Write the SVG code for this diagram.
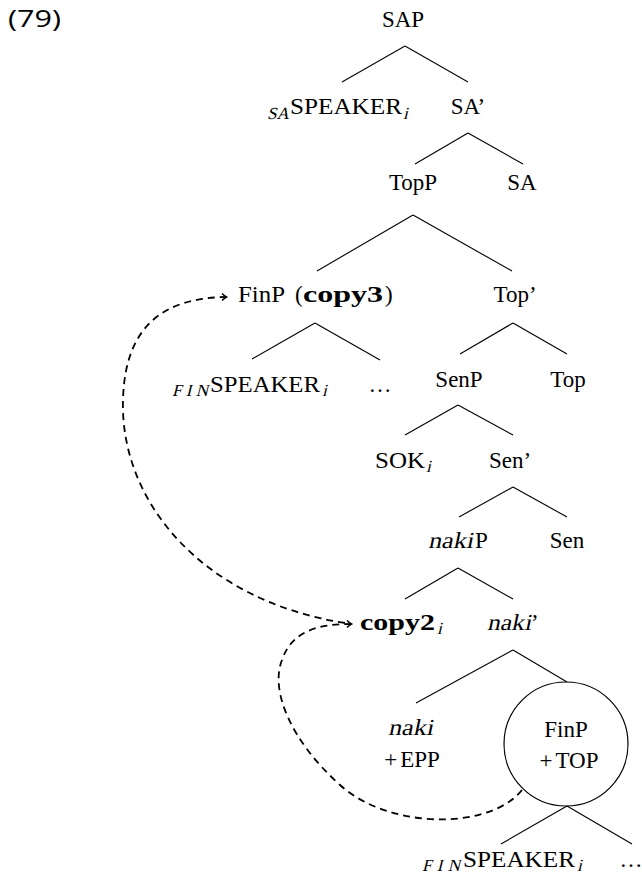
<svg xmlns="http://www.w3.org/2000/svg" width="642" height="883" viewBox="0 0 642 883">
<style>
  text { font-family: 'Liberation Serif', 'Times New Roman', serif; font-size: 23px; fill: #000; }
  .b { font-weight: bold; }
  .sub { font-size: 17px; }
  .num { font-family: 'Open Sans', 'Noto Sans', sans-serif; font-size: 24px; }
  .m { text-anchor: middle; }
  .edge { stroke: #000; stroke-width: 1.1; fill: none; }
  .move { stroke: #000; stroke-width: 1.8; fill: none; stroke-dasharray: 7 5; }
</style>
<defs>
  <marker id="arr" markerUnits="userSpaceOnUse" markerWidth="12" markerHeight="12" refX="0" refY="0" viewBox="-6 -6 12 12" orient="auto">
    <path d="M-4,-3.5 Q-1.5,-1 0.5,0 Q-1.5,1 -4,3.5" stroke="#000" stroke-width="1.5" fill="none"/>
  </marker>
</defs>
<rect width="642" height="883" fill="#fff"/>
<text class="num" x="8" y="27" textLength="53" lengthAdjust="spacingAndGlyphs">(79)</text>

<g id="connectors">
  <line class="edge" x1="405" y1="46" x2="342" y2="82"/>
  <line class="edge" x1="405" y1="46" x2="468" y2="82"/>
  <line class="edge" x1="468" y1="133" x2="415" y2="164"/>
  <line class="edge" x1="468" y1="133" x2="523" y2="164"/>
  <line class="edge" x1="413" y1="215" x2="317" y2="271"/>
  <line class="edge" x1="413" y1="215" x2="512" y2="271"/>
  <line class="edge" x1="315" y1="323" x2="252" y2="359"/>
  <line class="edge" x1="315" y1="323" x2="380" y2="360"/>
  <line class="edge" x1="513" y1="323" x2="460" y2="354"/>
  <line class="edge" x1="513" y1="323" x2="567" y2="354"/>
  <line class="edge" x1="458" y1="405" x2="405" y2="435"/>
  <line class="edge" x1="458" y1="405" x2="513" y2="435"/>
  <line class="edge" x1="513" y1="487" x2="459" y2="517"/>
  <line class="edge" x1="513" y1="487" x2="567" y2="517"/>
  <line class="edge" x1="458" y1="568" x2="405" y2="599"/>
  <line class="edge" x1="458" y1="568" x2="513" y2="599"/>
  <line class="edge" x1="513" y1="650" x2="416" y2="703"/>
  <line class="edge" x1="513" y1="650" x2="567" y2="682"/>
  <line class="edge" x1="567" y1="806" x2="501" y2="844"/>
  <line class="edge" x1="567" y1="806" x2="632" y2="844"/>
  <path class="move" d="M345,623 C200,600 120,500 123,400 C125,320 170,298 226,297" marker-end="url(#arr)"/>
  <path class="move" d="M522,790 C490,830 390,830 340,785 C290,740 270,690 282,660 C292,630 320,624 351,624" marker-end="url(#arr)"/>
</g>

<g id="nodes">
<g id="n-SAP"><text class="m" x="403" y="27">SAP</text></g>
<g id="n-SA-speaker">
  <g transform="translate(267,119) skewX(-14)"><text class="sub" x="0" y="0" textLength="22" lengthAdjust="spacingAndGlyphs">SA</text></g>
  <text x="290" y="114" textLength="112" lengthAdjust="spacingAndGlyphs">SPEAKER</text>
  <g transform="translate(403,119) skewX(-14)"><text class="sub" x="0" y="0">i</text></g>
</g>
<g id="n-SAbar"><text class="m" x="468" y="114">SA’</text></g>
<g id="n-TopP"><text class="m" x="413" y="190">TopP</text></g>
<g id="n-SA"><text class="m" x="522" y="190">SA</text></g>
<g id="n-FinP-copy3">
  <text x="238" y="302" textLength="47" lengthAdjust="spacingAndGlyphs">FinP</text>
  <text x="295" y="302">(</text>
  <text class="b" x="303" y="302" textLength="80" lengthAdjust="spacingAndGlyphs">copy3</text>
  <text x="385" y="302">)</text>
</g>
<g id="n-Topbar"><text class="m" x="515" y="302">Top’</text></g>
<g id="n-FIN-speaker1">
  <g transform="translate(172,396) skewX(-14)"><text class="sub" x="0" y="0" textLength="36">FIN</text></g>
  <text x="210" y="392" textLength="110" lengthAdjust="spacingAndGlyphs">SPEAKER</text>
  <g transform="translate(322,396) skewX(-14)"><text class="sub" x="0" y="0">i</text></g>
</g>
<g id="n-dots1"><text class="m" x="380" y="392">…</text></g>
<g id="n-SenP"><text class="m" x="459" y="387">SenP</text></g>
<g id="n-Top"><text class="m" x="568" y="387">Top</text></g>
<g id="n-SOK">
  <text x="375" y="468" textLength="50" lengthAdjust="spacingAndGlyphs">SOK</text>
  <g transform="translate(426,472) skewX(-14)"><text class="sub" x="0" y="0">i</text></g>
</g>
<g id="n-Senbar"><text class="m" x="510" y="468">Sen’</text></g>
<g id="n-nakiP">
  <g transform="translate(428,548) skewX(-12)"><text x="0" y="0" textLength="45" lengthAdjust="spacingAndGlyphs">naki</text></g>
  <text x="475" y="548">P</text>
</g>
<g id="n-Sen"><text class="m" x="567" y="548">Sen</text></g>
<g id="n-copy2">
  <text class="b" x="360" y="630" textLength="75" lengthAdjust="spacingAndGlyphs">copy2</text>
  <g transform="translate(437,634) skewX(-14)"><text class="sub" x="0" y="0">i</text></g>
</g>
<g id="n-nakibar">
  <g transform="translate(487,630) skewX(-12)"><text x="0" y="0" textLength="44" lengthAdjust="spacingAndGlyphs">naki</text></g>
  <text x="531" y="630">’</text>
</g>
<g id="n-naki">
  <g transform="translate(388,735) skewX(-12)"><text x="0" y="0" textLength="45" lengthAdjust="spacingAndGlyphs">naki</text></g>
  <text class="m" x="412" y="767">+<tspan dx="3">EPP</tspan></text>
</g>
<g id="n-FinP-TOP">
  <circle cx="566" cy="744" r="62" fill="none" stroke="#000" stroke-width="1.2"/>
  <text class="m" x="566" y="737">FinP</text>
  <text class="m" x="569" y="768">+<tspan dx="3">TOP</tspan></text>
</g>
<g id="n-FIN-speaker2">
  <g transform="translate(422,871) skewX(-14)"><text class="sub" x="0" y="0" textLength="38">FIN</text></g>
  <text x="463" y="867" textLength="112" lengthAdjust="spacingAndGlyphs">SPEAKER</text>
  <g transform="translate(577,871) skewX(-14)"><text class="sub" x="0" y="0">i</text></g>
</g>
<g id="n-dots2"><text class="m" x="631" y="867">…</text></g>
</g>
</svg>
